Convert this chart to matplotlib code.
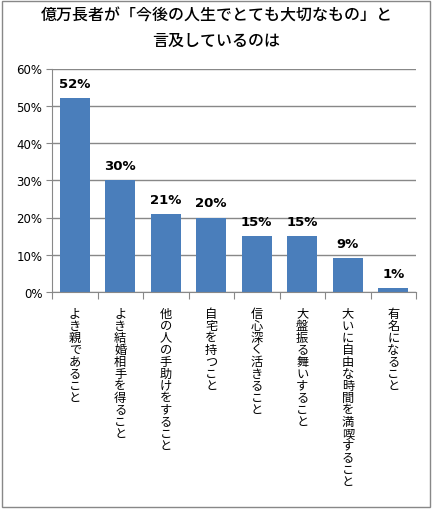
import matplotlib
matplotlib.use("Agg")
import matplotlib.pyplot as plt
from matplotlib.patches import Rectangle

plt.rcParams['font.family'] = ['Noto Sans CJK JP', 'DejaVu Sans']

categories = ["よき親であること", "よき結婚相手を得ること", "他の人の手助けをすること",
              "自宅を持つこと", "信心深く活きること", "大盤振る舞いすること",
              "大いに自由な時間を満喫すること", "有名になること"]
values = [52, 30, 21, 20, 15, 15, 9, 1]
yticks = [0, 10, 20, 30, 40, 50, 60]
title = "億万長者が「今後の人生でとても大切なもの」と\n言及しているのは"

fig = plt.figure(figsize=(4.33, 5.10), dpi=100)
fig.patches.append(Rectangle((0.004, 0.004), 0.99, 0.992, transform=fig.transFigure,
                             fill=False, edgecolor='#888888', linewidth=1))

ax = fig.add_axes([52 / 433, 1 - 293 / 510, (416 - 52) / 433, (293 - 69.5) / 510])
x = range(len(values))
ax.bar(x, values, width=0.66, color='#4A7EBB', zorder=2)
for i, v in zip(x, values):
    ax.text(i, v + 2.2, f"{v}%", ha='center', va='bottom', fontsize=9.5,
            fontweight='bold', family=['DejaVu Sans'])

ax.set_xlim(-0.5, len(values) - 0.5)
ax.set_ylim(0, 60)
ax.set_yticks(yticks)
ax.set_yticklabels([f"{t}%" for t in yticks], fontsize=8.5, family=['DejaVu Sans'])
ax.yaxis.grid(True, color='#888888', linewidth=1, zorder=0)
ax.set_axisbelow(True)
for s in ['top', 'right']:
    ax.spines[s].set_visible(False)
ax.spines['left'].set_color('#888888')
ax.spines['bottom'].set_color('#888888')
ax.tick_params(axis='y', length=4, color='#888888', pad=3)

# category separators as ticks
ax.set_xticks([i - 0.5 for i in range(len(values) + 1)])
ax.set_xticklabels([])
ax.tick_params(axis='x', length=5, color='#888888')

for i, c in enumerate(categories):
    ax.text(i, -3.9, "\n".join(c), ha='center', va='top', fontsize=8.8,
            linespacing=0.9, clip_on=False)

fig.text(0.5, 0.986, title, ha='center', va='top', fontsize=11.5,
         fontweight='medium', linespacing=1.65)

fig.savefig("out.png", dpi=100)
